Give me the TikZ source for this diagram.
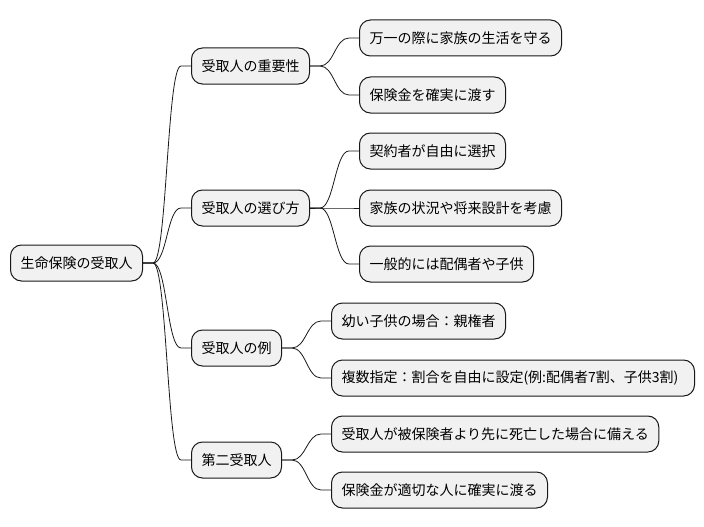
\documentclass[tikz,border=0pt]{standalone}
\usepackage{fontspec}
\setmainfont{Noto Sans CJK JP}
\usetikzlibrary{positioning}

\definecolor{boxfill}{HTML}{F1F1F1}
\definecolor{boxline}{HTML}{181818}

% connector from a parent node to a child node
\newcommand{\branch}[2]{%
  \draw[link] (#1.east) -- ++(10,0) .. controls +(14,0) and +(-14,0) .. ([xshift=-10pt]#2.west) -- (#2.west);}

\begin{document}
\begin{tikzpicture}[
    x=1pt, y=-1pt,
    topic/.style={draw=boxline, fill=boxfill, line width=1pt, rounded corners=11pt,
      minimum height=36pt, inner xsep=10pt, anchor=west, font=\fontsize{14}{16}\selectfont},
    link/.style={draw=boxline, line width=0.8pt},
  ]
  \useasboundingbox (0,0) rectangle (704,527);

  %% ── root ───────────────────────────────────────────────
  \node[topic] (root) at (10,263) {生命保険の受取人};

  %% ── first level ────────────────────────────────────────
  \node[topic] (imp)    at (191,66)  {受取人の重要性};
  \node[topic] (choose) at (191,208) {受取人の選び方};
  \node[topic] (ex)     at (191,348) {受取人の例};
  \node[topic] (second) at (191,460) {第二受取人};

  %% ── second level ───────────────────────────────────────
  \node[topic] (imp1) at (359,38)  {万一の際に家族の生活を守る};
  \node[topic] (imp2) at (359,95)  {保険金を確実に渡す};

  \node[topic] (ch1) at (359,151) {契約者が自由に選択};
  \node[topic] (ch2) at (359,208) {家族の状況や将来設計を考慮};
  \node[topic] (ch3) at (359,264) {一般的には配偶者や子供};

  \node[topic] (ex1) at (331,321) {幼い子供の場合：親権者};
  \node[topic, text width=343pt, align=left] (ex2) at (331,378) {複数指定：割合を自由に設定(例:配偶者7割、子供3割)};

  \node[topic] (se1) at (331,434) {受取人が被保険者より先に死亡した場合に備える};
  \node[topic] (se2) at (331,490) {保険金が適切な人に確実に渡る};

  %% ── connectors ─────────────────────────────────────────
  \branch{root}{imp}
  \branch{root}{choose}
  \branch{root}{ex}
  \branch{root}{second}

  \branch{imp}{imp1}
  \branch{imp}{imp2}
  \branch{choose}{ch1}
  \branch{choose}{ch2}
  \branch{choose}{ch3}
  \branch{ex}{ex1}
  \branch{ex}{ex2}
  \branch{second}{se1}
  \branch{second}{se2}

\end{tikzpicture}
\end{document}
